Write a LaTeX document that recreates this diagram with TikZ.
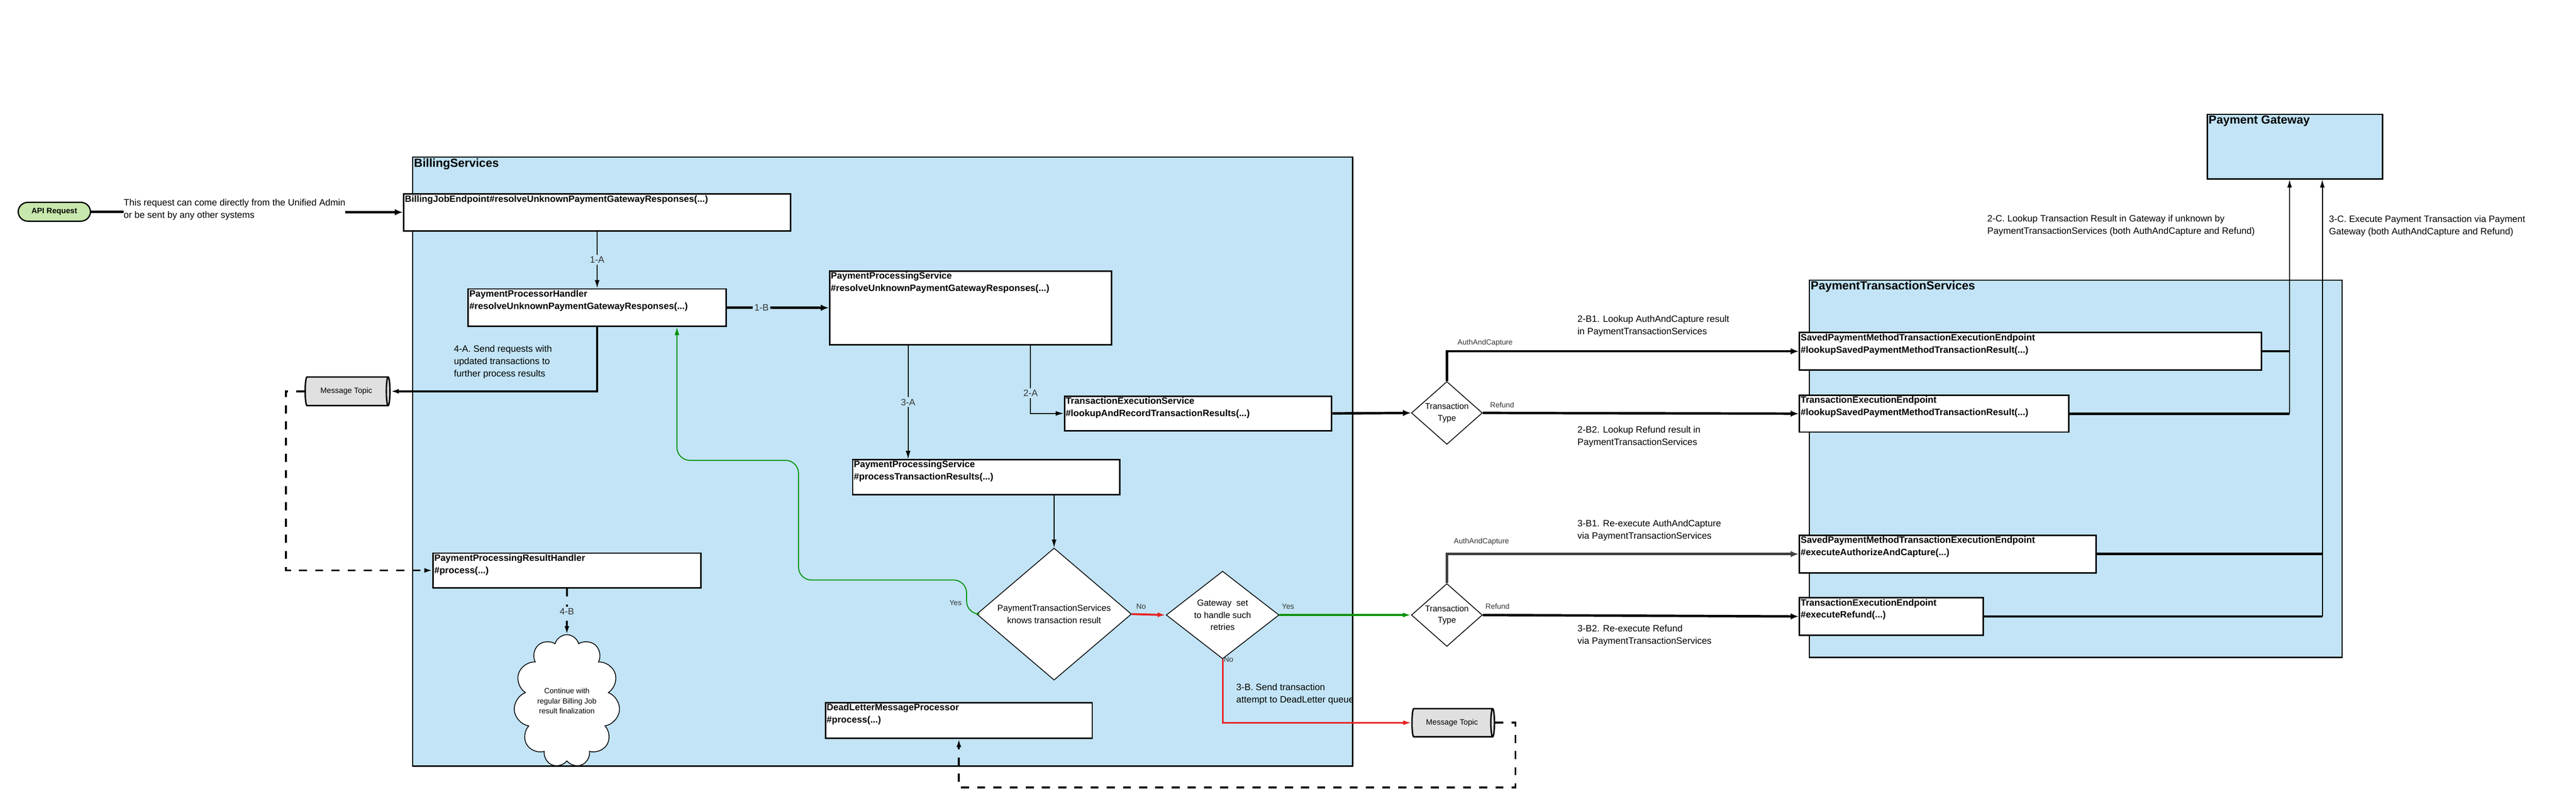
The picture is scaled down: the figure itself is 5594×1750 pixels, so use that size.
\documentclass[tikz,border=0pt]{standalone}
\usepackage{fontspec}
\setmainfont{Liberation Sans}
\usetikzlibrary{arrows.meta,shapes.geometric,shapes.symbols}
\definecolor{bsblue}{RGB}{194,228,246}
\definecolor{apigreen}{RGB}{199,232,172}
\definecolor{okgreen}{RGB}{0,145,0}
\definecolor{errred}{RGB}{232,30,30}
\tikzset{
	frame/.style={draw, line width=0.8pt, fill=bsblue, anchor=north west, inner sep=0pt},
	box/.style={draw, line width=0.9pt, fill=white, anchor=north west, inner sep=0pt},
	title/.style={anchor=north west, align=left, inner sep=1pt, font=\fontsize{5.7}{7.6}\selectfont\bfseries},
	note/.style={anchor=north west, align=left, inner sep=0pt, font=\fontsize{5.7}{7.6}\selectfont},
	tag/.style={inner sep=1pt, font=\fontsize{4.6}{5.5}\selectfont, text=black!80},
	midlab/.style={fill=bsblue, inner sep=1pt, font=\fontsize{5.7}{7}\selectfont, text=black!80},
	decide/.style={diamond, draw, line width=0.5pt, fill=white, inner sep=0pt, align=center},
	topic/.style={cylinder, draw, line width=0.9pt, fill=black!12, shape aspect=0.5, inner sep=0pt, font=\fontsize{4.8}{6}\selectfont},
	flow/.style={line width=0.6pt, -{Latex[length=5pt,width=3pt]}},
	bold/.style={line width=1.5pt, -{Latex[length=5pt,width=4pt]}},
	queue/.style={line width=1.2pt, dash pattern=on 5pt off 5pt, -{Latex[length=5pt,width=3pt]}},
}
\begin{document}
\begin{tikzpicture}[x=0.01cm, y=-0.01cm]
	\useasboundingbox (0,0) rectangle (5594,1750);

	%FRAMES
	\node[frame, minimum width=20.4cm, minimum height=13.22cm] (billing) at (895,340) {};
	\node[title, font=\fontsize{7.3}{9}\selectfont\bfseries] at (billing.north west) {BillingServices};
	\node[frame, minimum width=11.56cm, minimum height=8.19cm] (pts) at (3928,607) {};
	\node[title, font=\fontsize{7.3}{9}\selectfont\bfseries] at (pts.north west) {PaymentTransactionServices};
	\node[frame, minimum width=3.8cm, minimum height=1.4cm] (gateway) at (4792,247) {};
	\node[title, font=\fontsize{7.3}{9}\selectfont\bfseries] at (gateway.north west) {Payment Gateway};

	%BOXES
	\node[box, minimum width=8.4cm, minimum height=0.8cm] (bje) at (875,420) {};
	\node[title] at (bje.north west) {BillingJobEndpoint\#resolveUnknownPaymentGatewayResponses(...)};
	\node[box, minimum width=5.6cm, minimum height=0.81cm] (pph) at (1015,626) {};
	\node[title] at (pph.north west) {PaymentProcessorHandler\\\#resolveUnknownPaymentGatewayResponses(...)};
	\node[box, minimum width=6.12cm, minimum height=1.6cm] (ppsr) at (1800,587) {};
	\node[title] at (ppsr.north west) {PaymentProcessingService\\\#resolveUnknownPaymentGatewayResponses(...)};
	\node[box, minimum width=5.8cm, minimum height=0.75cm] (tes) at (2310,859) {};
	\node[title] at (tes.north west) {TransactionExecutionService\\\#lookupAndRecordTransactionResults(...)};
	\node[box, minimum width=5.8cm, minimum height=0.76cm] (ppsp) at (1850,997) {};
	\node[title] at (ppsp.north west) {PaymentProcessingService\\\#processTransactionResults(...)};
	\node[box, minimum width=5.81cm, minimum height=0.75cm] (pprh) at (939,1200) {};
	\node[title] at (pprh.north west) {PaymentProcessingResultHandler\\\#process(...)};
	\node[box, minimum width=5.79cm, minimum height=0.77cm] (dlmp) at (1791,1525) {};
	\node[title] at (dlmp.north west) {DeadLetterMessageProcessor\\\#process(...)};
	\node[box, minimum width=10.03cm, minimum height=0.81cm] (spml) at (3906,721) {};
	\node[title] at (spml.north west) {SavedPaymentMethodTransactionExecutionEndpoint\\\#lookupSavedPaymentMethodTransactionResult(...)};
	\node[box, minimum width=5.85cm, minimum height=0.8cm] (teel) at (3906,857) {};
	\node[title] at (teel.north west) {TransactionExecutionEndpoint\\\#lookupSavedPaymentMethodTransactionResult(...)};
	\node[box, minimum width=6.44cm, minimum height=0.82cm] (spme) at (3906,1161) {};
	\node[title] at (spme.north west) {SavedPaymentMethodTransactionExecutionEndpoint\\\#executeAuthorizeAndCapture(...)};
	\node[box, minimum width=3.99cm, minimum height=0.81cm] (teee) at (3906,1297) {};
	\node[title] at (teee.north west) {TransactionExecutionEndpoint\\\#executeRefund(...)};

	%OTHER SHAPES
	\node[draw, line width=0.8pt, fill=apigreen, rounded corners=6pt, minimum width=1.57cm, minimum height=0.41cm, inner sep=0pt, font=\fontsize{4.8}{6}\selectfont\bfseries] (api) at (118,460) {API Request};
	\node[topic, minimum height=1.84cm, minimum width=0.62cm] (topicA) at (752,850) {Message Topic};
	\node[topic, minimum height=1.79cm, minimum width=0.61cm] (topicB) at (3153,1570) {Message Topic};
	\node[cloud, cloud puffs=11, aspect=0.7, draw, line width=0.5pt, fill=white, minimum width=2.02cm, minimum height=1.52cm, inner sep=0pt, align=center, font=\fontsize{4.6}{6.2}\selectfont] (finish) at (1231,1523) {Continue with\\regular Billing Job\\result finalization};
	\node[decide, minimum width=3.36cm, minimum height=2.53cm, font=\fontsize{5.4}{7.6}\selectfont] (known) at (2289,1334) {PaymentTransactionServices\\knows transaction result};
	\node[decide, minimum width=2.45cm, minimum height=1.65cm, font=\fontsize{5.4}{7.6}\selectfont] (retry) at (2655,1336) {Gateway~~set\\to handle such\\retries};
	\node[decide, minimum width=1.54cm, minimum height=1.17cm, font=\fontsize{5.2}{7}\selectfont] (typeA) at (3142,897) {Transaction\\Type};
	\node[decide, minimum width=1.54cm, minimum height=1.17cm, font=\fontsize{5.2}{7}\selectfont] (typeB) at (3142,1336) {Transaction\\Type};

	%HELPER POINTS
	\coordinate (bendA) at (1734,1260);
	\coordinate (bendB) at (1470,1000);
	\coordinate (railC) at (4972,0);
	\coordinate (railD) at (5043,0);
	\coordinate (railE) at (2238,0);
	\coordinate (railF) at (1972,0);

	%CONNECTORS
	\draw[bold] (api) -- (bje);
	\node[note, fill=white] at (268,432) {This request can come directly from the Unified Admin\\or be sent by any other systems};
	\draw[flow] (bje.south -| pph.north) -- node[midlab]{1-A} (pph.north);
	\draw[bold] (pph.east) -- node[midlab, pos=0.34]{1-B} (ppsr.west);
	\draw[flow] (ppsr.south -| railF) -- node[midlab]{3-A} (ppsp.north -| railF);
	\draw[flow] (ppsr.south -| railE) -- node[midlab, pos=0.7]{2-A} (tes.west -| railE) -- (tes.west);
	\draw[bold] (tes.east) -- (typeA.west);
	\draw[flow] (ppsp.south -| known.north) -- (known.north);
	\draw[line width=1.2pt, -{Latex[length=5pt,width=3pt]}] (pph.south) |- (topicA.east);
	\node[note] at (985,750) {4-A. Send requests with\\updated transactions to\\further process results};
	\draw[queue] (topicA.west) -- ++(-40,0) |- (pprh.west);
	\draw[queue] (pprh.south) -- node[midlab]{4-B} (finish.north);
	\draw[okgreen, line width=0.6pt, rounded corners=8pt, -{Latex[length=5pt,width=3pt]}] (known.west) -- ++(-21,0) |- (bendA) |- (bendB) -- (bendB |- pph.south);
	\node[tag] at (2075,1310) {Yes};
	\draw[errred, line width=1.2pt, -{Latex[length=5pt,width=3pt]}] (known.east) -- (retry.west);
	\node[tag] at (2478,1317) {No};
	\draw[okgreen, line width=1.2pt, -{Latex[length=5pt,width=3pt]}] (retry.east) -- (typeB.west);
	\node[tag] at (2797,1317) {Yes};
	\draw[errred, line width=0.9pt, -{Latex[length=5pt,width=3pt]}] (retry.south) |- (topicB.west);
	\node[tag] at (2668,1433) {No};
	\node[note] at (2684,1485) {3-B. Send transaction\\attempt to DeadLetter queue};
	\draw[queue] (topicB.east) -- ++(44,0) -- ++(0,141) -| (dlmp.south);

	% lookups
	\draw[bold] (typeA.north) |- (spml.west);
	\node[tag] at (3225,745) {AuthAndCapture};
	\draw[bold] (typeA.east) -- (teel.west);
	\node[tag] at (3262,880) {Refund};
	\node[note] at (3425,685) {2-B1. Lookup AuthAndCapture result\\in PaymentTransactionServices};
	\node[note] at (3425,925) {2-B2. Lookup Refund result in\\PaymentTransactionServices};
	\draw[line width=1.5pt] (spml.east) -- (spml.east -| railC);
	\draw[line width=1.5pt] (teel.east) -- (teel.east -| railC);
	\draw[flow] (teel.east -| railC) -- (railC |- gateway.south);
	\node[note] at (4315,466) {2-C. Lookup Transaction Result in Gateway if unknown by\\PaymentTransactionServices (both AuthAndCapture and Refund)};

	% executions
	\draw[bold, black!75] (typeB.north) |- (spme.west);
	\node[tag] at (3217,1177) {AuthAndCapture};
	\draw[bold] (typeB.east) -- (teee.west);
	\node[tag] at (3252,1317) {Refund};
	\node[note] at (3425,1129) {3-B1. Re-execute AuthAndCapture\\via PaymentTransactionServices};
	\node[note] at (3425,1357) {3-B2. Re-execute Refund\\via PaymentTransactionServices};
	\draw[line width=1.5pt] (spme.east) -- (spme.east -| railD);
	\draw[line width=1.5pt] (teee.east) -- (teee.east -| railD);
	\draw[flow] (teee.east -| railD) -- (railD |- gateway.south);
	\node[note] at (5057,468) {3-C. Execute Payment Transaction via Payment\\Gateway (both AuthAndCapture and Refund)};
\end{tikzpicture}
\end{document}
